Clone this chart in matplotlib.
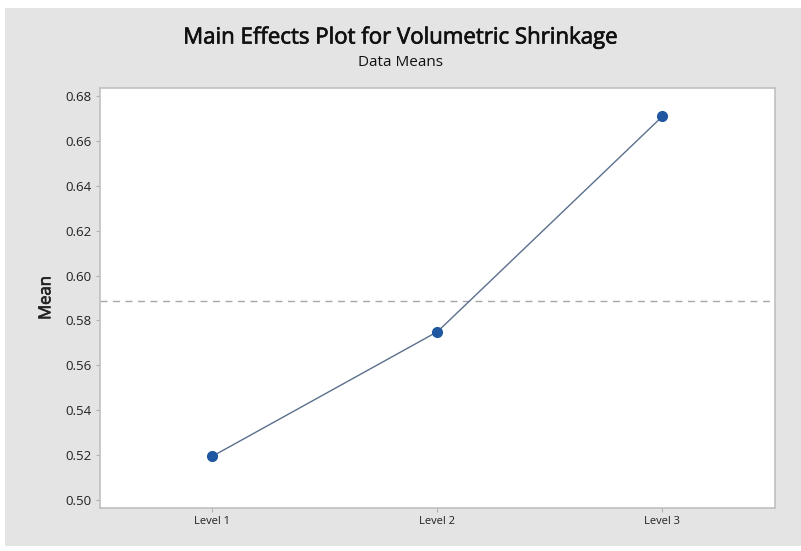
import matplotlib
matplotlib.use("Agg")
import matplotlib.pyplot as plt
import matplotlib.patheffects as pe
from matplotlib.patches import Rectangle
import numpy as np

# data
levels = ["Level 1", "Level 2", "Level 3"]
means = [0.5195, 0.575, 0.671]
grand_mean = 0.5885
yticks = [0.50, 0.52, 0.54, 0.56, 0.58, 0.60, 0.62, 0.64, 0.66, 0.68]

plt.rcParams['font.family'] = ['Open Sans', 'DejaVu Sans']

W, H = 801, 551
fig = plt.figure(figsize=(W / 100, H / 100), dpi=100, facecolor='white')

# grey panel behind everything (Minitab style)
fig.patches.append(Rectangle((5 / W, 1 - 546 / H), 1 - 5 / W, (546 - 8) / H,
                             transform=fig.transFigure, facecolor='#e4e4e4',
                             edgecolor='none', zorder=-10))

left, right, top, bottom = 100, 775, 88, 508
ax = fig.add_axes([left / W, 1 - bottom / H, (right - left) / W, (bottom - top) / H])
ax.set_facecolor('white')

x = np.arange(1, len(levels) + 1)
ax.plot(x, means, color='#5a6f8c', lw=1.0, zorder=2)
ax.plot(x, means, 'o', color='#1f57a0', ms=7, zorder=3)
ax.axhline(grand_mean, color='#a8a8a8', lw=1.0, ls=(0, (5, 4)), zorder=1)

ax.set_xlim(0.5, 3.5)
ax.set_ylim(0.4964, 0.6836)
ax.set_xticks(x)
ax.set_xticklabels(levels, fontsize=8)
ax.set_yticks(yticks)
ax.set_yticklabels([f"{v:.2f}" for v in yticks], fontsize=9.5)
ax.tick_params(axis='both', length=3, color='#b0b0b0', labelcolor='#222222', pad=3)
heavy = [pe.withStroke(linewidth=0.5, foreground='#222222')]
ax.set_ylabel("Mean", fontsize=12, color='#222222', labelpad=8, path_effects=heavy)

for s in ax.spines.values():
    s.set_color('#c0c0c0')
    s.set_linewidth(1.2)

fig.text(0.5, 1 - 38 / H, "Main Effects Plot for Volumetric Shrinkage",
         ha='center', va='center', fontsize=16, color='#111111',
         path_effects=[pe.withStroke(linewidth=0.5, foreground='#111111')])
fig.text(0.5, 1 - 63 / H, "Data Means", ha='center', va='center',
         fontsize=11, color='#111111')

fig.savefig("out.png", dpi=100, facecolor=fig.get_facecolor())
